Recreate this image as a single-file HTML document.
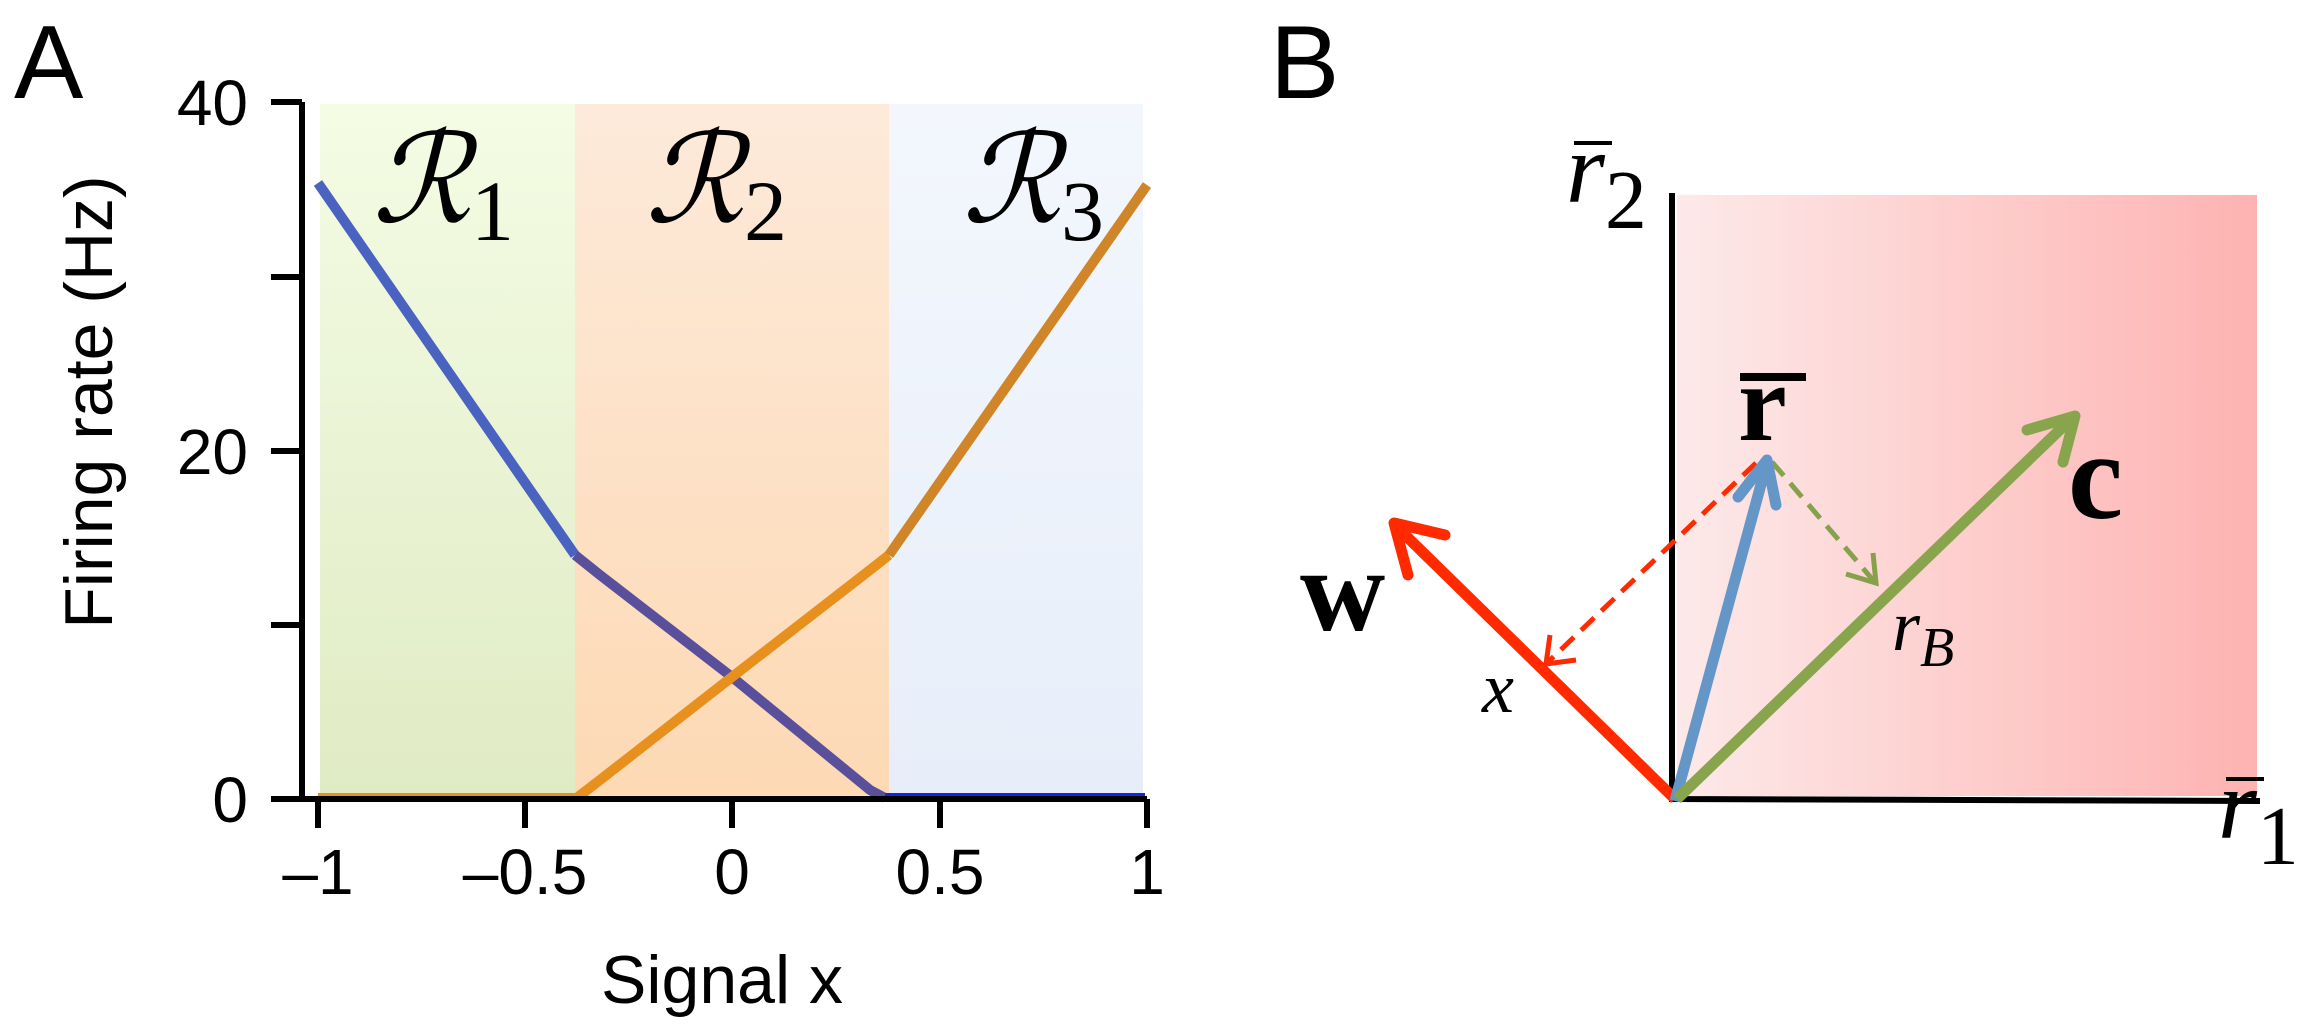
<!DOCTYPE html>
<html><head><meta charset="utf-8"><style>
html,body{margin:0;padding:0;background:#fff;}
svg{display:block;}
</style></head><body>
<svg width="2320" height="1027" viewBox="0 0 2320 1027" xmlns="http://www.w3.org/2000/svg">
<defs>
<linearGradient id="g1" x1="0" y1="0" x2="0" y2="1"><stop offset="0" stop-color="#f4fce4"/><stop offset="1" stop-color="#e0ebc4"/></linearGradient>
<linearGradient id="g2" x1="0" y1="0" x2="0" y2="1"><stop offset="0" stop-color="#fdeada"/><stop offset="1" stop-color="#fdd9b4"/></linearGradient>
<linearGradient id="g3" x1="0" y1="0" x2="0" y2="1"><stop offset="0" stop-color="#f3f7fd"/><stop offset="1" stop-color="#e7eef9"/></linearGradient>
<linearGradient id="gp" x1="0" y1="0" x2="1" y2="0"><stop offset="0" stop-color="#fde9e9"/><stop offset="1" stop-color="#fdb3b1"/></linearGradient>
</defs>
<g font-family="Liberation Sans, sans-serif">
<text x="14" y="98" font-size="104">A</text>
<rect x="320" y="104" width="255" height="694" fill="url(#g1)"/>
<rect x="575" y="104" width="314" height="694" fill="url(#g2)"/>
<rect x="889" y="104" width="254" height="694" fill="url(#g3)"/>
<polyline points="318,183 575,555" fill="none" stroke="#4a63c0" stroke-width="10"/>
<polyline points="575,555 600,575 732,677 870,790 885,798" fill="none" stroke="#5a4f9a" stroke-width="10"/>
<line x1="885" y1="797" x2="1145" y2="797" stroke="#1028d8" stroke-width="8"/>
<line x1="318" y1="797" x2="580" y2="797" stroke="#e8901e" stroke-width="8"/>
<polyline points="578,797 600,780 732,677 870,570 889,555" fill="none" stroke="#e8901e" stroke-width="10"/>
<polyline points="889,555 1147,185" fill="none" stroke="#d08628" stroke-width="10"/>
<path d="M302,102 V799 H1147" fill="none" stroke="#000" stroke-width="6"/>
<g stroke="#000" stroke-width="6">
<line x1="271" y1="102" x2="302" y2="102"/><line x1="271" y1="277" x2="302" y2="277"/><line x1="271" y1="451" x2="302" y2="451"/><line x1="271" y1="625" x2="302" y2="625"/><line x1="271" y1="799" x2="302" y2="799"/>
<line x1="318" y1="799" x2="318" y2="828"/><line x1="525" y1="799" x2="525" y2="828"/><line x1="732" y1="799" x2="732" y2="828"/><line x1="940" y1="799" x2="940" y2="828"/><line x1="1147" y1="799" x2="1147" y2="828"/>
</g>
<g font-size="64" text-anchor="end">
<text x="248" y="125">40</text><text x="248" y="474">20</text><text x="248" y="822">0</text>
</g>
<g font-size="64" text-anchor="middle">
<text x="318" y="894">–1</text><text x="525" y="894">–0.5</text><text x="732" y="894">0</text><text x="940" y="894">0.5</text><text x="1147" y="894">1</text>
</g>
<g font-size="68" text-anchor="middle">
<text x="722" y="1003">Signal x</text>
<text transform="translate(112,402) rotate(-90)">Firing rate (Hz)</text>
</g>
<g font-family="Liberation Serif, serif" font-style="italic" font-size="124">
<text x="372" y="222">ℛ<tspan font-style="normal" font-size="86" dy="18">1</tspan></text>
<text x="645" y="222">ℛ<tspan font-style="normal" font-size="86" dy="18">2</tspan></text>
<text x="962" y="222">ℛ<tspan font-style="normal" font-size="86" dy="18">3</tspan></text>
</g>
<text x="1270" y="98" font-size="104">B</text>
<rect x="1677" y="195" width="580" height="601" fill="url(#gp)"/>
<path d="M1672,193 V799 L2260,801" fill="none" stroke="#000" stroke-width="6"/>
<line x1="1756" y1="463" x2="1548" y2="662" stroke="#ff2a00" stroke-width="5" stroke-dasharray="18,10"/>
<polyline points="1550,635 1546,664 1576,660" fill="none" stroke="#ff2a00" stroke-width="5"/>
<line x1="1772" y1="462" x2="1873" y2="580" stroke="#86a04c" stroke-width="5" stroke-dasharray="18,10"/>
<polyline points="1846,574 1876,583 1873,553" fill="none" stroke="#86a04c" stroke-width="5"/>
<line x1="1675" y1="799" x2="1398" y2="528" stroke="#ff2a00" stroke-width="11"/>
<polyline points="1445,535 1394,523 1408,575" fill="none" stroke="#ff2a00" stroke-width="11" stroke-linecap="round" stroke-linejoin="round"/>
<line x1="1675" y1="801" x2="1766" y2="466" stroke="#6496c8" stroke-width="11"/>
<polyline points="1738,497 1767,460 1776,505" fill="none" stroke="#6496c8" stroke-width="11" stroke-linecap="round" stroke-linejoin="round"/>
<line x1="1677" y1="799" x2="2070" y2="420" stroke="#88a44c" stroke-width="11"/>
<polyline points="2027,430 2075,416 2063,462" fill="none" stroke="#88a44c" stroke-width="11" stroke-linecap="round" stroke-linejoin="round"/>
<g font-family="Liberation Serif, serif">
<text x="1566" y="202" font-size="100" font-style="italic">r<tspan font-style="normal" font-size="84" dy="26">2</tspan></text>
<line x1="1574" y1="143" x2="1612" y2="143" stroke="#000" stroke-width="4"/>
<text x="2218" y="838" font-size="100" font-style="italic">r<tspan font-style="normal" font-size="84" dy="26">1</tspan></text>
<line x1="2226" y1="779" x2="2264" y2="779" stroke="#000" stroke-width="4"/>
<text x="1738" y="440" font-size="110" font-weight="bold">r</text>
<line x1="1740" y1="377" x2="1806" y2="377" stroke="#000" stroke-width="8"/>
<text x="2068" y="518" font-size="124" font-weight="bold">c</text>
<text x="1300" y="630" font-size="118" font-weight="bold">w</text>
<text x="1482" y="712" font-size="72" font-style="italic">x</text>
<text x="1892" y="650" font-size="72" font-style="italic">r<tspan font-size="56" dy="16">B</tspan></text>
</g>
</g>
</svg>
</body></html>
